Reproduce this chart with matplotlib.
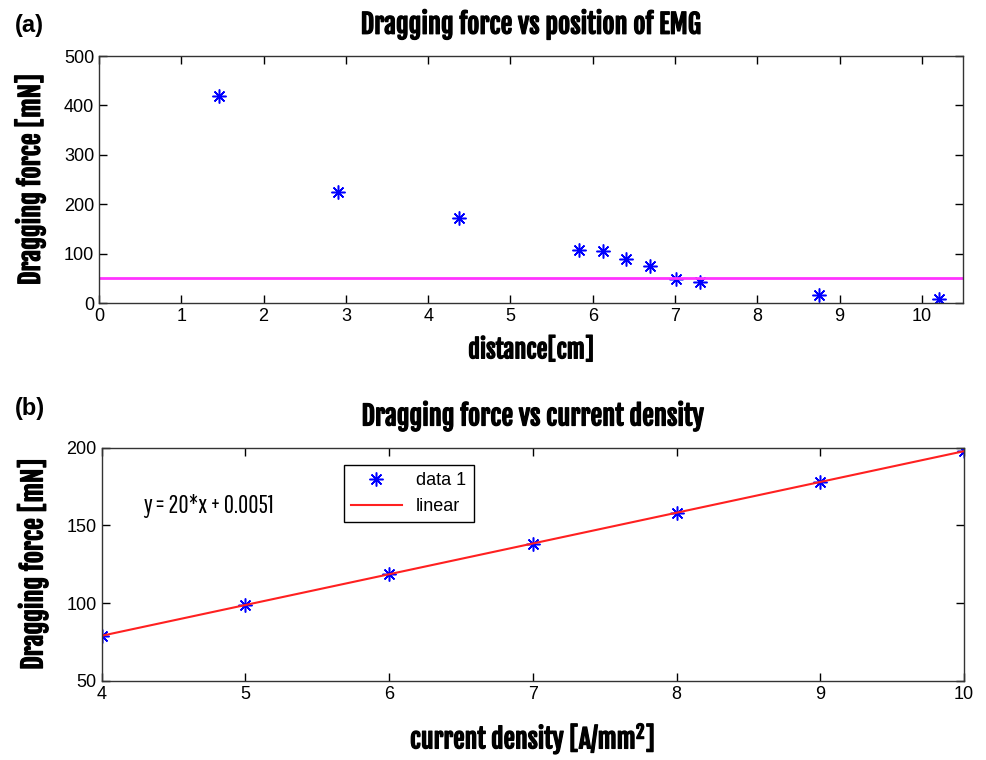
import numpy as np
import matplotlib
matplotlib.use('Agg')
import matplotlib.pyplot as plt
import matplotlib.patheffects as pe

# (a) dragging force vs distance of EMG
dist_cm = [1.46, 2.90, 4.38, 5.83, 6.12, 6.41, 6.70, 7.01, 7.30, 8.75, 10.21]
force_a = [420, 225, 173, 108, 105, 90, 75, 49, 42, 16, 9]
threshold = 50

# (b) dragging force vs current density
current_density = [4, 5, 6, 7, 8, 9, 10]
force_b = [79, 99, 118.5, 138, 158, 178, 198]

heavy = ['Fjalla One', 'DejaVu Sans']
light = ['Pathway Gothic One', 'DejaVu Sans']
plt.rcParams['font.family'] = ['Liberation Sans', 'DejaVu Sans']
plt.rcParams['mathtext.fontset'] = 'custom'
plt.rcParams['mathtext.rm'] = 'Fjalla One'

# thicken the condensed font a little
bold_fx = [pe.withStroke(linewidth=0.9, foreground='black')]
star = (8, 2, 0)

fig = plt.figure(figsize=(9.87, 7.6), dpi=100)
ax1 = fig.add_axes([0.1003, 0.6013, 0.8754, 0.3250])
ax2 = fig.add_axes([0.1030, 0.1043, 0.8737, 0.3066])

# top panel
ax1.plot(dist_cm, force_a, linestyle='none', marker=star, markersize=10,
         markeredgewidth=1.1, color='blue')
ax1.axhline(threshold, color='#ff33ff', lw=2)
ax1.set_xlim(0, 10.5)
ax1.set_ylim(0, 500)
ax1.set_xticks(range(0, 11))
ax1.set_yticks(range(0, 501, 100))
ax1.set_title('Dragging force vs position of EMG', family=heavy,
              fontsize=19, pad=16, path_effects=bold_fx)
ax1.set_xlabel('distance[cm]', family=heavy, fontsize=17.5, labelpad=9,
               path_effects=bold_fx)
ax1.set_ylabel('Dragging force [mN]', family=heavy, fontsize=19,
               labelpad=13, path_effects=bold_fx)

# bottom panel
z = np.polyfit(current_density, force_b, 1)
p = np.poly1d(z)
ax2.plot(current_density, force_b, linestyle='none', marker=star, markersize=10,
         markeredgewidth=1.1, color='blue', label='data 1')
ax2.plot(current_density, p(current_density), color='#ff2020', lw=1.5,
         label='linear')
ax2.set_xlim(4, 10)
ax2.set_ylim(50, 200)
ax2.set_xticks(range(4, 11))
ax2.set_yticks(range(50, 201, 50))
ax2.set_title('Dragging force vs current density', family=heavy,
              fontsize=19, pad=16, path_effects=bold_fx)
ax2.set_xlabel(r'current density [A/mm$^\mathrm{2}$]', family=heavy,
               fontsize=18.5, labelpad=13, path_effects=bold_fx)
ax2.set_ylabel('Dragging force [mN]', family=heavy, fontsize=19,
               labelpad=13, path_effects=bold_fx)
ax2.text(0.048, 0.75, 'y = 20*x + 0.0051', transform=ax2.transAxes,
         family=light, fontsize=18, va='center')
leg = ax2.legend(loc='upper left', bbox_to_anchor=(0.281, 0.926),
                 fancybox=False, edgecolor='black', framealpha=1,
                 fontsize=13, borderaxespad=0, handlelength=2.8)
leg.get_frame().set_linewidth(1.0)

for ax in (ax1, ax2):
    ax.tick_params(direction='in', top=True, right=True, labelsize=13,
                   length=6, width=1)
    for s in ax.spines.values():
        s.set_linewidth(1.0)
        s.set_color('#333333')

fig.text(0.015, 0.967, '(a)', fontsize=17, fontweight='bold', va='center')
fig.text(0.015, 0.463, '(b)', fontsize=17, fontweight='bold', va='center')

fig.savefig('out.png', dpi=100)
